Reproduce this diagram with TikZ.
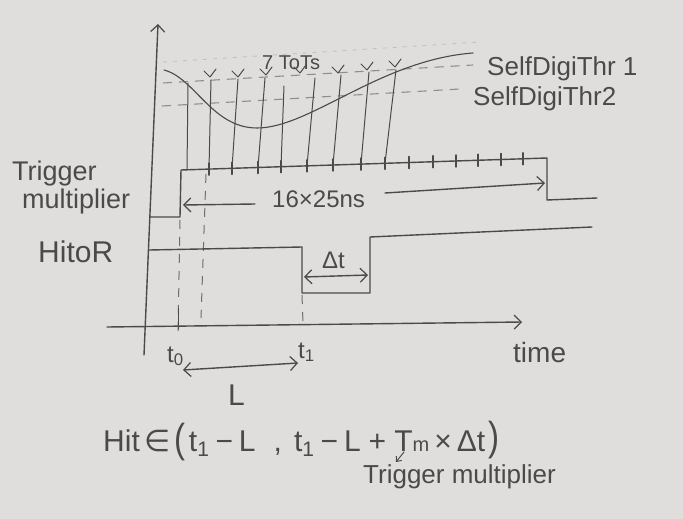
\documentclass[tikz,border=0pt]{standalone}
\usepackage{fontspec}
\setmainfont{Liberation Sans}
\newfontfamily\dejavu{DejaVu Sans}
\usetikzlibrary{arrows.meta}
\definecolor{paper}{HTML}{E0DEDC}
\definecolor{pencil}{HTML}{4A4A4A}
\definecolor{faint}{HTML}{8E8E8E}
\newcommand{\fs}[1]{\fontsize{#1}{#1}\selectfont}
\begin{document}
\begin{tikzpicture}[x=1pt,y=-1pt,
  pen/.style={draw=pencil,line width=1.4pt,line cap=round,line join=round},
  thinpen/.style={draw=pencil,line width=1pt,line cap=round,line join=round},
  thr/.style={draw=faint,line width=1.1pt,dash pattern=on 9pt off 7pt},
  vdash/.style={draw=pencil!80,line width=1pt,dash pattern=on 9pt off 8pt},
  tip/.style={-{Straight Barb[length=7pt,width=14pt,line width=1.2pt]}},
  tips/.style={{Straight Barb[length=7pt,width=14pt,line width=1.2pt]}-{Straight Barb[length=7pt,width=14pt,line width=1.2pt]}},
  lab/.style={text=pencil,inner sep=0pt,anchor=base west}]

\path[fill=paper] (0,0) rectangle (683,519);
\useasboundingbox (0,0) rectangle (683,519);

% axes
\coordinate (yb) at (144,355); \coordinate (yt) at (158,24);
\draw[pen,tip] (yb) -- (yt);
\coordinate (xl) at (107,327); \coordinate (xr) at (522,322);
\draw[pen,tip] (xl) -- (xr);

% thresholds
\draw[draw=faint!55,line width=0.9pt,dash pattern=on 4pt off 6pt] (163,62) -- (480,42);
\draw[thr] (163,83) -- (473,65);
\draw[thr] (162,106) -- (460,89);

% analog pulse
\draw[pen,line width=1.1pt] (164,70) .. controls (195,78) and (212,128) .. (257,128)
      .. controls (310,128) and (380,60) .. (473,53);

% vertical lines from trigger ticks to threshold
\foreach \bx/\tx/\ty in {187/188/83,209/211/80,232/238/79,258/265/78,281/284/86,307/315/78,333/341/75,361/369/72,385/396/70}
  \draw[thinpen] (\bx,{170-(\bx-181)*12/366}) -- (\tx,\ty);

% ToT marks
\foreach \vx/\vy in {210/77,238/77,266/75,300/73,338/73,367/70,395/67}
  \draw[thinpen] (\vx-6,\vy-6) -- (\vx,\vy) -- (\vx+6,\vy-8);

% trigger multiplier signal
\draw[pen] (150,217) -- (180,217) -- (181,170) -- (547,158) -- (547,200) -- (597,198);
\foreach \x in {209,232,258,281,307,333,361,385,409,433,456,478,501,523}
  \draw[pen] (\x,{170-(\x-181)*12/366-6}) -- ++(0,12);

% dashed drop lines
\draw[vdash] (180,220) -- (178,332);
\draw[vdash] (206,174) -- (201,318);
\draw[vdash] (302,295) -- (303,323);
\draw[thinpen] (178,308) -- (178,329);

% HitOR signal
\draw[pen] (149,250) -- (302,247) -- (302,293) -- (370,293) -- (370,237) -- (592,227);

% dimension arrows
\draw[pen,tips] (304,277) -- (368,275);
\draw[pen,tip] (255,204) -- (183,205);
\draw[pen,tip] (385,193) -- (545,183);
\draw[pen,tips] (183,370) -- (298,363);
\draw[thinpen,-{Straight Barb[length=4pt,width=7pt,line width=1pt]}] (404,452) -- (396,462);

% labels
\node[lab] (lTrig) at (12,180) {\fs{27}Trigger};
\node[lab] (lMult) at (22,208) {\fs{27}multiplier};
\node[lab] (lHit) at (38,262) {\fs{30}HitoR};
\node[lab] (lThrA) at (487,75) {\fs{26}SelfDigiThr 1};
\node[lab] (lThrB) at (473,105) {\fs{26}SelfDigiThr2};
\node[lab] (lTot) at (262,70) {\fs{20}7 ToTs};
\node[lab] (lNs) at (272,207) {\fs{24}16×25ns};
\node[lab] (lDt) at (322,268) {\fs{24}Δt};
\node[lab] (lTime) at (513,362) {\fs{28}time};
\node[lab] (lT0) at (167,362) {\fs{24}t\textsubscript{0}};
\node[lab] (lT1) at (298,358) {\fs{24}t\textsubscript{1}};
\node[lab] (lL) at (228,405) {\fs{30}L};
\node[lab] (lFormula) at (103,451) {\fs{30}Hit\hspace{5pt}{\dejavu ∈}\hspace{4pt}\raisebox{-1pt}{\scalebox{1.1}[1.35]{(}}\hspace{3pt}t\textsubscript{1}\hspace{6pt}−\hspace{6pt}L\hspace{18pt},\hspace{12pt}t\textsubscript{1}\hspace{6pt}−\hspace{6pt}L\hspace{8pt}+\hspace{8pt}T{\fs{20}m}\hspace{5pt}×\hspace{5pt}Δt\hspace{3pt}\raisebox{1pt}{\scalebox{1.1}[1.35]{)}}};
\node[lab] (lTm) at (363,483) {\fs{26}Trigger multiplier};
\end{tikzpicture}
\end{document}
